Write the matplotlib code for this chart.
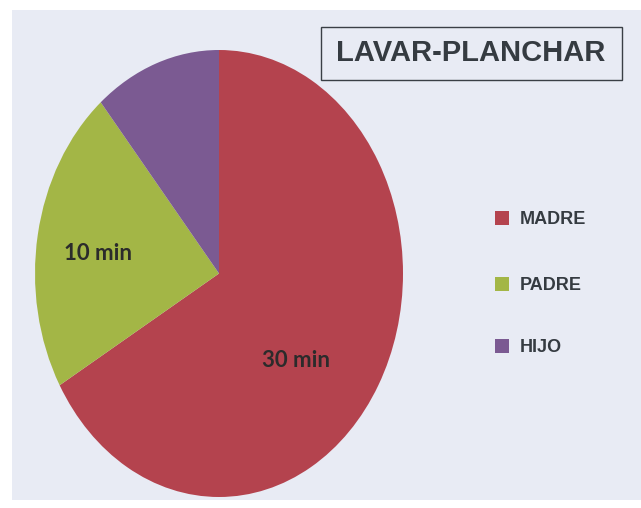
import matplotlib
matplotlib.use("Agg")
import matplotlib.pyplot as plt
from matplotlib.patches import Rectangle

title = "LAVAR-PLANCHAR"
categories = ["MADRE", "PADRE", "HIJO"]
minutes = [30, 10, 5]
value_labels = ["30 min", "10 min", ""]
colors = ["#b4434e", "#a3b646", "#7b5a92"]

W, H = 641, 508
fig = plt.figure(figsize=(W / 100, H / 100), dpi=100, facecolor="white")

def fx(px):
    return px / W

def fy(py):
    return 1 - py / H

# scanned page background
fig.patches.append(Rectangle((fx(12), fy(500)), fx(641 - 12), (500 - 10) / H,
                             transform=fig.transFigure, facecolor="#e8ebf4",
                             edgecolor="none", zorder=-5))

# pie axes (elliptical pie)
ax = fig.add_axes([fx(35), fy(497), fx(403 - 35), (497 - 50) / H])
ax.set_zorder(2)
ax.set_facecolor("none")
wedges, _ = ax.pie(minutes, colors=colors, startangle=90, counterclock=False,
                   wedgeprops=dict(linewidth=0))
ax.set_aspect("auto")
ax.set_xlim(-1, 1)
ax.set_ylim(-1, 1)
ax.axis("off")

label_font = ["Lato", "DejaVu Sans"]
ax.text(0.42, -0.39, value_labels[0], ha="center", va="center",
        fontsize=16, fontweight="bold", color="#2b2b2b", family=label_font)
ax.text(-0.66, 0.09, value_labels[1], ha="center", va="center",
        fontsize=16, fontweight="bold", color="#2b2b2b", family=label_font)

txt_font = ["Liberation Sans", "DejaVu Sans"]

# title box
fig.patches.append(Rectangle((fx(321), fy(80)), fx(622 - 321), (80 - 27) / H,
                             transform=fig.transFigure, facecolor="none",
                             edgecolor="#3a3f45", linewidth=1.0, zorder=3))
fig.text(fx(471), fy(53), title, ha="center", va="center", fontsize=21,
         fontweight="bold", color="#353b41", family=txt_font)

# legend
leg_y = [218, 284, 346]
for name, c, y in zip(categories, colors, leg_y):
    fig.patches.append(Rectangle((fx(495), fy(y + 7)), fx(14), 14 / H,
                                 transform=fig.transFigure, facecolor=c,
                                 edgecolor="none", zorder=3))
    fig.text(fx(520), fy(y), name, ha="left", va="center_baseline", fontsize=13,
             fontweight="bold", color="#353b41", family=txt_font)

fig.savefig("out.png", dpi=100, facecolor="white")
